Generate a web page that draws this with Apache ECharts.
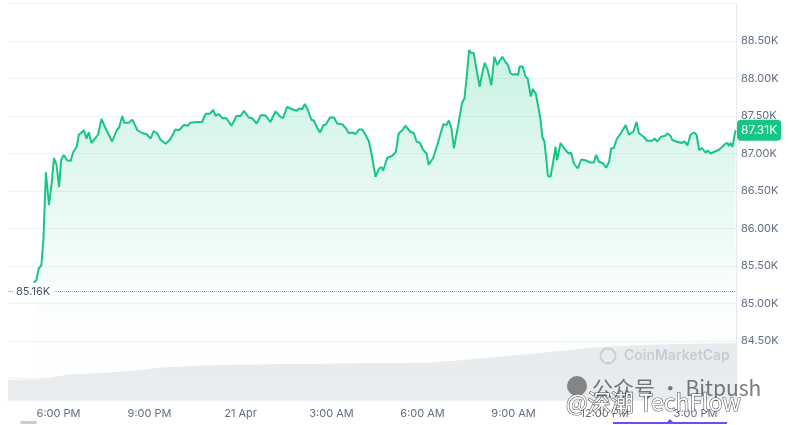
<!DOCTYPE html>
<html><head><meta charset="utf-8">
<script src="https://cdn.jsdelivr.net/npm/echarts@6/dist/echarts.min.js"></script>
<style>html,body{margin:0;padding:0;background:#fff}#c{width:789px;height:425px}</style>
</head><body><div id="c"></div>
<script>
// ---- data ----
const priceTimes = ['17:11','17:16','17:21','17:26','17:30','17:35','17:41','17:46','17:51','17:56',
'18:01','18:05','18:10','18:17','18:24','18:29','18:36','18:40','18:44','18:50','18:55',
'19:00','19:05','19:11','19:18','19:25','19:30','19:37','19:46','19:55',
'20:00','20:06','20:10','20:19','20:26','20:36','20:46','20:54',
'21:02','21:08','21:15','21:22','21:32','21:41','21:51','21:58',
'22:08','22:15','22:21','22:34','22:44','22:51','22:59',
'23:06','23:11','23:17','23:24','23:32','23:42','23:52',
'00:00','00:07','00:16','00:23','00:32','00:40','00:49','00:59',
'01:09','01:19','01:24','01:32','01:42','01:52','01:55',
'02:02','02:07','02:12','02:20','02:25','02:32','02:37','02:44','02:48','02:57',
'03:05','03:11','03:21','03:28','03:34','03:41','03:48','03:54',
'04:01','04:07','04:14','04:20','04:27','04:34','04:39','04:42','04:50',
'05:00','05:07','05:13','05:20','05:26','05:36','05:43','05:48','05:55',
'06:01','06:08','06:12','06:21','06:29','06:41','06:47','06:52','06:57',
'07:02','07:10','07:18','07:23','07:28','07:32','07:36','07:41','07:47','07:53','07:58',
'08:03','08:09','08:16','08:22','08:28','08:33','08:38','08:44','08:49','08:54','08:59',
'09:04','09:09','09:12','09:18','09:24','09:28','09:34','09:38','09:44','09:53','09:57',
'10:01','10:05','10:08','10:13','10:18','10:23','10:26','10:33','10:41','10:49','10:54','10:59',
'11:07','11:14','11:22','11:32','11:39','11:43','11:49','11:57',
'12:03','12:09','12:13','12:18','12:24','12:32','12:42','12:48','12:57',
'13:03','13:08','13:18','13:24','13:34','13:39','13:44','13:51',
'14:01','14:04','14:11','14:14','14:22','14:32','14:38','14:44','14:50','14:57',
'15:02','15:07','15:13','15:20','15:24','15:30','15:36','15:46','15:53','15:59',
'16:03','16:06','16:09','16:13','16:16','16:19'];
const prices = [85280,85310,85470,85510,85850,86750,86310,86580,86940,86850,
86550,86910,86980,86910,86900,87020,87090,87250,87270,87310,87200,
87280,87140,87190,87250,87460,87380,87280,87160,87310,
87350,87500,87410,87410,87450,87310,87270,87260,
87200,87300,87270,87180,87130,87190,87320,87310,
87380,87370,87410,87420,87420,87530,87530,
87580,87500,87530,87470,87470,87370,87500,
87500,87570,87480,87470,87400,87510,87510,87420,
87560,87490,87470,87620,87590,87570,87600,
87590,87660,87600,87450,87440,87340,87280,87380,87380,87480,
87480,87400,87390,87340,87270,87280,87260,87320,
87320,87250,87160,86960,86690,86800,86820,86770,86940,
86970,87020,87270,87310,87370,87290,87270,87160,87140,
87050,87000,86850,86940,87110,87390,87380,87440,87340,
87070,87360,87670,87740,88070,88380,88340,88340,88110,87890,88070,
88210,88110,87910,88290,88180,88240,88290,88220,88180,88070,88050,
88060,88050,88160,88160,88020,88000,87760,87860,87800,87470,87220,
87160,86910,86700,86690,86870,87090,86910,87140,87060,87000,87010,86870,
86800,86920,86910,86880,86880,86980,86890,86870,
86810,86890,87070,87070,87190,87270,87380,87250,87290,
87420,87270,87220,87170,87170,87200,87160,87220,
87240,87270,87230,87180,87160,87140,87160,87110,87250,87280,
87250,87050,87070,87010,87040,87000,87020,87050,87090,87130,
87140,87100,87140,87090,87200,87310];
const volumeTimes = ['16:20','17:20','18:20','19:20','20:20','21:20','22:20','23:20',
'00:20','01:20','02:20','03:20','04:20','05:20','06:20','07:20','08:20','09:20',
'10:20','11:20','12:20','13:20','14:20','15:20','16:20'];
const volumes = [20,20.5,25.5,27,29,32.5,34,35,35.5,36,36,36.5,37,37,37.5,40,43,45.5,48.5,51.5,54,55,56,56.5,57];
const firstDay = [2025, 3, 20];
const axisStartTime = [2025, 3, 20, 16, 20];
const axisEndTime = [2025, 3, 21, 16, 20];
const labelTimes = ['18:00','21:00','00:00','03:00','06:00','09:00','12:00','15:00'];
const openPrice = 85160;
const priceMin = 84000, priceMax = 89000, priceStep = 500;

// ---- helpers ----
function toStamps(list) {
  let day = firstDay[2], prev = -1;
  return list.map(t => {
    const [h, m] = t.split(':').map(Number);
    const mins = h * 60 + m;
    if (mins < prev) day += 1;
    prev = mins;
    return new Date(firstDay[0], firstDay[1], day, h, m).getTime();
  });
}
const pT = toStamps(priceTimes);
const vT = toStamps(volumeTimes);
const lT = toStamps(['16:20'].concat(labelTimes)).slice(1);
const xMin = new Date(...axisStartTime).getTime();
const xMax = new Date(...axisEndTime).getTime();
const priceData = pT.map((t, i) => [t, prices[i]]);
const volData = vT.map((t, i) => [t, volumes[i]]);
const lastPrice = prices[prices.length - 1];
const months = ['Jan','Feb','Mar','Apr','May','Jun','Jul','Aug','Sep','Oct','Nov','Dec'];
function fmtTime(v) {
  const d = new Date(v);
  const h = d.getHours(), m = d.getMinutes();
  if (h === 0 && m === 0) return d.getDate() + ' ' + months[d.getMonth()];
  const h12 = h % 12 === 0 ? 12 : h % 12;
  return h12 + ':' + String(m).padStart(2, '0') + ' ' + (h < 12 ? 'AM' : 'PM');
}
const kFmt = v => (v / 1000).toFixed(2) + 'K';

const FONT = 'Inter, "Noto Sans", sans-serif';
const GREEN = '#16c784';
const LBL = '#616e85';
const GRIDC = '#eff2f5';

const chart = echarts.init(document.getElementById('c'), null, {renderer: 'canvas'});
chart.setOption({
  animation: false,
  textStyle: {fontFamily: FONT},
  grid: [
    {left: 8, right: 53, top: 3.5, bottom: 46.5},
    {left: 8, right: 53, top: 340, bottom: 25}
  ],
  xAxis: [
    {type: 'value', gridIndex: 0, min: xMin, max: xMax, show: false, splitLine: {show: false}},
    {type: 'value', gridIndex: 1, min: xMin, max: xMax,
      axisLine: {show: true, lineStyle: {color: GRIDC}},
      axisTick: {show: false},
      splitLine: {show: false},
      axisLabel: {customValues: lT, formatter: fmtTime, color: LBL, fontSize: 11, margin: 8, fontFamily: FONT}
    }
  ],
  yAxis: [
    {type: 'value', gridIndex: 0, position: 'right', min: priceMin, max: priceMax, interval: priceStep,
      axisLine: {show: true, lineStyle: {color: '#e6e9ee'}},
      axisTick: {show: false},
      splitLine: {show: true, lineStyle: {color: GRIDC, width: 1}},
      axisLabel: {color: LBL, fontSize: 11, margin: 5, fontFamily: FONT,
        formatter: v => (v === priceMin || v === priceMax) ? '' : kFmt(v)}
    },
    {type: 'value', gridIndex: 1, position: 'right', min: 0, max: 60,
      axisLine: {show: true, lineStyle: {color: '#e6e9ee'}},
      axisTick: {show: false}, axisLabel: {show: false}, splitLine: {show: false}
    }
  ],
  series: [
    {
      type: 'line', xAxisIndex: 1, yAxisIndex: 1, data: volData, symbol: 'none',
      lineStyle: {width: 0}, areaStyle: {color: '#e9ecef', opacity: 1}, silent: true, z: 1
    },
    {
      type: 'line', xAxisIndex: 0, yAxisIndex: 0, data: priceData, symbol: 'none',
      lineStyle: {color: GREEN, width: 2}, z: 3,
      areaStyle: {color: new echarts.graphic.LinearGradient(0, 0, 0, 1, [
        {offset: 0, color: 'rgba(22,199,132,0.32)'},
        {offset: 0.75, color: 'rgba(22,199,132,0.03)'},
        {offset: 1, color: 'rgba(22,199,132,0)'}
      ])},
      markLine: {
        silent: true, symbol: 'none', animation: false, z: 10,
        data: [
          {yAxis: openPrice, lineStyle: {type: 'dotted', color: '#9aa3b0', width: 1}, label: {show: false}},
          {yAxis: lastPrice, lineStyle: {color: 'rgba(0,0,0,0)', width: 1},
            label: {show: true, position: 'end', distance: 1, formatter: () => kFmt(lastPrice),
              color: '#fff', backgroundColor: GREEN, borderRadius: 4, padding: [5, 4, 4, 4],
              fontSize: 12, fontFamily: FONT}}
        ]
      }
    }
  ]
});

const openY = chart.convertToPixel({xAxisIndex: 0, yAxisIndex: 0}, [xMin, openPrice])[1];
chart.setOption({
  graphic: [
    {type: 'text', x: 14, y: openY, z: 10,
      style: {text: kFmt(openPrice), fill: '#4b5567', font: '11px ' + FONT, textVerticalAlign: 'middle',
        backgroundColor: '#fff', padding: [2, 3, 2, 2]}},
    {type: 'circle', shape: {cx: 608, cy: 356, r: 7.5}, z: 10,
      style: {fill: 'none', stroke: '#cbd0d7', lineWidth: 2}},
    {type: 'text', x: 624, y: 356, z: 10,
      style: {text: 'CoinMarketCap', fill: '#c6ccd4', font: '600 14px ' + FONT, textVerticalAlign: 'middle'}},
    {type: 'circle', shape: {cx: 577, cy: 386, r: 10}, z: 11,
      style: {fill: 'rgba(90,90,90,0.7)'}},
    {type: 'text', x: 592, y: 388, z: 11,
      style: {text: '公众号 · Bitpush', fill: 'rgba(70,70,70,0.72)', font: '21px "Noto Sans CJK SC", sans-serif', textVerticalAlign: 'middle'}},
    {type: 'text', x: 566, y: 402, z: 12,
      style: {text: '@深潮 TechFlow', fill: '#fff', stroke: 'rgba(60,60,60,0.85)', lineWidth: 1.2,
        font: '23px "Noto Sans CJK SC", sans-serif', textVerticalAlign: 'middle'}},
    {type: 'line', shape: {x1: 613, y1: 423, x2: 727, y2: 423}, z: 10,
      style: {stroke: '#6c4cf5', lineWidth: 2}},
    {type: 'polygon', shape: {points: [[666, 423], [670, 419], [674, 423]]}, z: 10,
      style: {fill: '#6c4cf5'}},
    {type: 'rect', shape: {x: 20, y: 421, width: 17, height: 3, r: 1.5}, z: 10,
      style: {fill: '#c9cdd4'}}
  ]
});
</script></body></html>
